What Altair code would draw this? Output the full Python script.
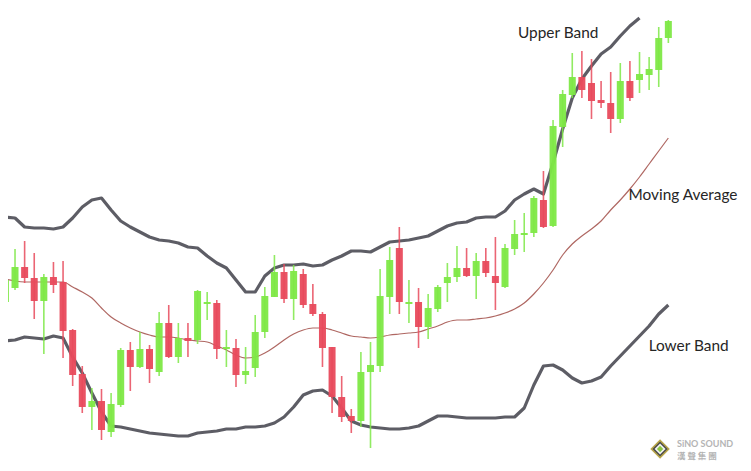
import altair as alt
import pandas as pd

# ---- candle data (price units) ----
idx = list(range(70))
opens = [198, 212, 233, 222, 199, 223, 218, 170, 126, 93,
         99, 68, 95, 150, 133, 151, 128, 177, 143, 162,
         160, 196, 197, 151, 152, 125, 132, 168, 203, 228,
         201, 226, 196, 186, 153, 103, 84, 79, 128, 134,
         203, 252, 196, 198, 173, 191, 217, 223, 232, 224,
         239, 224, 213, 251, 265, 267, 300, 274, 373, 405,
         423, 417, 400, 397, 381, 419, 420, 425, 430, 462]
closes = [220, 233, 222, 199, 223, 215, 169, 125, 93, 99,
          70, 96, 150, 133, 151, 131, 177, 143, 162, 159,
          209, 198, 151, 153, 125, 129, 168, 204, 228, 201,
          229, 195, 186, 152, 103, 83, 79, 128, 135, 204,
          240, 198, 198, 173, 192, 213, 223, 232, 224, 239,
          227, 217, 252, 266, 267, 302, 273, 374, 406, 423,
          410, 399, 397, 381, 419, 402, 426, 431, 462, 479]
highs = [242, 251, 259, 247, 226, 238, 239, 171, 134, 112,
         111, 107, 152, 158, 168, 155, 188, 195, 177, 177,
         210, 208, 200, 170, 161, 153, 185, 213, 245, 236,
         235, 231, 216, 188, 153, 124, 91, 148, 158, 231,
         253, 273, 220, 212, 206, 215, 237, 254, 252, 247,
         252, 263, 256, 280, 287, 304, 329, 380, 410, 447,
         449, 441, 419, 428, 437, 439, 448, 443, 473, 480]
lows = [195, 210, 217, 181, 146, 207, 142, 114, 87, 70,
        60, 63, 93, 109, 132, 117, 124, 142, 137, 143,
        156, 180, 141, 133, 113, 116, 123, 162, 203, 197,
        180, 192, 184, 133, 87, 78, 67, 73, 52, 128,
        186, 186, 177, 152, 161, 188, 198, 218, 223, 201,
        223, 190, 212, 245, 248, 263, 272, 273, 353, 402,
        402, 381, 392, 367, 377, 399, 407, 410, 413, 457]

# ---- Bollinger bands ----
upper = [283, 282, 273, 272, 272, 271, 273, 282, 293, 300,
         302, 290, 279, 273, 268, 263, 260, 259, 257, 253,
         252, 244, 237, 232, 220, 208, 208, 224, 232, 235,
         235, 236, 234, 235, 240, 244, 249, 249, 248, 253,
         258, 259, 260, 262, 264, 269, 274, 277, 278, 282,
         283, 283, 289, 300, 306, 311, 306, 337, 371, 402,
         421, 434, 446, 453, 464, 474, 482]
moving_avg = [221, 219, 218, 218, 218, 218, 218, 213, 208, 202,
              192, 183, 177, 172, 168, 165, 163, 163, 162, 160,
              159, 158, 154, 150, 145, 142, 143, 147, 153, 160,
              166, 170, 172, 172, 170, 167, 164, 163, 162, 163,
              165, 166, 167, 168, 171, 174, 178, 180, 180, 181,
              182, 184, 187, 191, 197, 206, 217, 230, 245, 256,
              264, 271, 279, 290, 300, 311, 323, 336, 349, 362]
lower = [159, 160, 163, 162, 161, 164, 162, 143, 127, 107,
         88, 74, 73, 71, 69, 67, 66, 65, 64, 64,
         67, 68, 69, 71, 71, 73, 73, 74, 77, 83,
         93, 105, 109, 110, 104, 92, 79, 75, 73, 72,
         71, 71, 72, 74, 79, 84, 84, 83, 82, 82,
         82, 82, 83, 83, 92, 115, 134, 135, 130, 122,
         117, 119, 123, 134, 144, 154, 164, 174, 186, 195]

# ---- annotation texts ----
label_text = ["Upper Band", "Moving Average", "Lower Band"]
label_x = [53.35, 64.85, 66.95]
label_y = [467, 305, 154]

GREEN = "#7ee846"
RED = "#e84a5c"
BAND = "#4f4f58"
MA = "#a85a55"

candles = pd.DataFrame({"i": idx, "open": opens, "close": closes,
                        "high": highs, "low": lows})
up_df = pd.DataFrame({"i": list(range(len(upper))), "v": upper})
ma_df = pd.DataFrame({"i": idx, "v": moving_avg})
lo_df = pd.DataFrame({"i": idx, "v": lower})
lab_df = pd.DataFrame({"t": label_text, "x": label_x, "y": label_y})

xs = alt.Scale(domain=[0.79, 76.25], nice=False, zero=False)
ys = alt.Scale(domain=[37, 492], nice=False, zero=False)

color = alt.condition("datum.close >= datum.open", alt.value(GREEN), alt.value(RED))

wicks = alt.Chart(candles).mark_rule(strokeWidth=1.6, opacity=0.85).encode(
    x=alt.X("i:Q", scale=xs, axis=None),
    y=alt.Y("low:Q", scale=ys, axis=None),
    y2="high:Q",
    color=color,
)
bodies = alt.Chart(candles).mark_bar(width=7, opacity=0.95).encode(
    x=alt.X("i:Q", scale=xs, axis=None),
    y=alt.Y("open:Q", scale=ys, axis=None),
    y2="close:Q",
    color=color,
)

def band(df, col, w, interp="linear"):
    return alt.Chart(df).mark_line(color=col, strokeWidth=w, interpolate=interp,
                                   opacity=0.92, strokeJoin="round").encode(
        x=alt.X("i:Q", scale=xs, axis=None),
        y=alt.Y("v:Q", scale=ys, axis=None),
    )

up_line = band(up_df, BAND, 3.2)
lo_line = band(lo_df, BAND, 3.2)
ma_line = band(ma_df, MA, 1.2, "monotone")

labels = alt.Chart(lab_df).mark_text(align="left", baseline="middle", font="Lato",
                                     fontSize=15.4, color="#262626").encode(
    x=alt.X("x:Q", scale=xs, axis=None),
    y=alt.Y("y:Q", scale=ys, axis=None),
    text="t:N",
)

# ---- watermark logo ----
logo_df = pd.DataFrame({"x": [68.14], "y": [51]})
logo_layers = []
for sz, col in [(380, "#b9a64a"), (230, "#4a4a4a"), (120, "#f2f2f2"), (40, "#8cc63f")]:
    logo_layers.append(alt.Chart(logo_df).mark_point(shape="diamond", filled=True,
                                                      size=sz, color=col, opacity=1).encode(
        x=alt.X("x:Q", scale=xs, axis=None),
        y=alt.Y("y:Q", scale=ys, axis=None),
    ))

wm_en = pd.DataFrame({"t": ["SiNO SOUND"], "x": [69.9], "y": [56.5]})
wm_zh = pd.DataFrame({"t": ["漢 聲 集 團"], "x": [69.9], "y": [44.5]})

def wm(df, font, size):
    return alt.Chart(df).mark_text(align="left", baseline="middle", fontSize=size,
                                   fontWeight="bold", font=font, color="#b4b4b4").encode(
        x=alt.X("x:Q", scale=xs, axis=None),
        y=alt.Y("y:Q", scale=ys, axis=None),
        text="t:N",
    )

wm_layers = [wm(wm_en, "Lato", 9), wm(wm_zh, "Noto Sans CJK TC", 8.5)]

chart = alt.layer(
    up_line, lo_line, ma_line, wicks, bodies, labels, *logo_layers, *wm_layers
).properties(
    width=735, height=455, padding=0,
    autosize=alt.AutoSizeParams(type="none"),
    background="#ffffff",
).configure_view(strokeWidth=0)

chart.save("out.html", embed_options={"renderer": "svg", "actions": False})
